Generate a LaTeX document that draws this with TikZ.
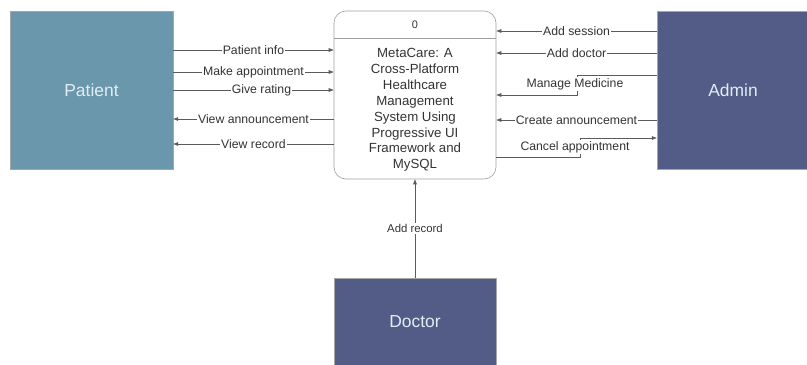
\documentclass[tikz,border=0pt]{standalone}
\usepackage{fontspec}
\setmainfont{Liberation Sans}
\usetikzlibrary{arrows.meta,calc}
\definecolor{patientc}{RGB}{106,151,172}
\definecolor{adminc}{RGB}{82,92,135}
\definecolor{boxtext}{RGB}{225,236,244}
\definecolor{linec}{RGB}{90,90,90}
\tikzset{
  entity/.style={draw=gray!70, line width=0.5pt, text=boxtext, font=\fontsize{17.5}{20}\selectfont, inner sep=0pt},
  flow/.style={draw=linec, line width=0.6pt, -{Triangle[length=5pt,width=3.6pt]}},
  flowlbl/.style={fill=white, inner xsep=1pt, inner ysep=1pt, text=black!80, font=\fontsize{12.3}{14}\selectfont},
}
\begin{document}
\begin{tikzpicture}[x=1bp,y=-1bp]
\useasboundingbox (0,0) rectangle (807,364);
% entities
\node[entity, fill=patientc, minimum width=163bp, minimum height=158bp] (Patient) at (91.5,90) {Patient};
\node[entity, fill=adminc, minimum width=152bp, minimum height=158bp] (Admin) at (733,90) {Admin};
\node[entity, fill=adminc, minimum width=162bp, minimum height=88bp] (Doctor) at (415,322) {Doctor};
% process
\node[draw=gray!75, line width=0.6pt, rounded corners=12bp, minimum width=162bp, minimum height=168bp, inner sep=0pt] (proc) at (415,95) {};
\draw[gray!75, line width=0.6pt] (proc.west |- 0,38) -- (proc.east |- 0,38);
\node[font=\fontsize{11}{13}\selectfont, text=black!80] (pid) at (415,25) {0};
\node[align=center, font=\fontsize{13.3}{15.9}\selectfont, text=black!80] (ptext) at (415,110) {MetaCare: A\\Cross-Platform\\Healthcare\\Management\\System Using\\Progressive UI\\Framework and\\MySQL};
% Patient flows
\draw[flow] (Patient.east |- 0,50) -- node[flowlbl]{Patient info} (proc.west |- 0,50);
\draw[flow] (Patient.east |- 0,72) -- node[flowlbl]{Make appointment} (proc.west |- 0,72);
\draw[flow] (Patient.east |- 0,90) -- node[flowlbl, xshift=8bp]{Give rating} (proc.west |- 0,90);
\draw[flow] (proc.west |- 0,119) -- node[flowlbl]{View announcement} (Patient.east |- 0,119);
\draw[flow] (proc.west |- 0,144) -- node[flowlbl]{View record} (Patient.east |- 0,144);
% Admin flows
\draw[flow] (Admin.west |- 0,31) -- node[flowlbl]{Add session} (proc.east |- 0,31);
\draw[flow] (Admin.west |- 0,53) -- node[flowlbl]{Add doctor} (proc.east |- 0,53);
\draw[flow] (Admin.west |- 0,75) -- (577,75) -- (577,95) -- (proc.east |- 0,95);
\node[flowlbl, fill=white] (mmlbl) at (575,84) {Manage Medicine};
\draw[flow] (Admin.west |- 0,120) -- node[flowlbl]{Create announcement} (proc.east |- 0,120);
\draw[flow] (proc.east |- 0,157) -- (580,157) -- (580,138) -- (Admin.west |- 0,138);
\node[flowlbl] (calbl) at (575,147) {Cancel appointment};
% Doctor flow
\draw[flow] (Doctor.north) -- node[flowlbl, font=\fontsize{11.4}{13}\selectfont, pos=0.5]{Add record} (proc.south);
\end{tikzpicture}
\end{document}
